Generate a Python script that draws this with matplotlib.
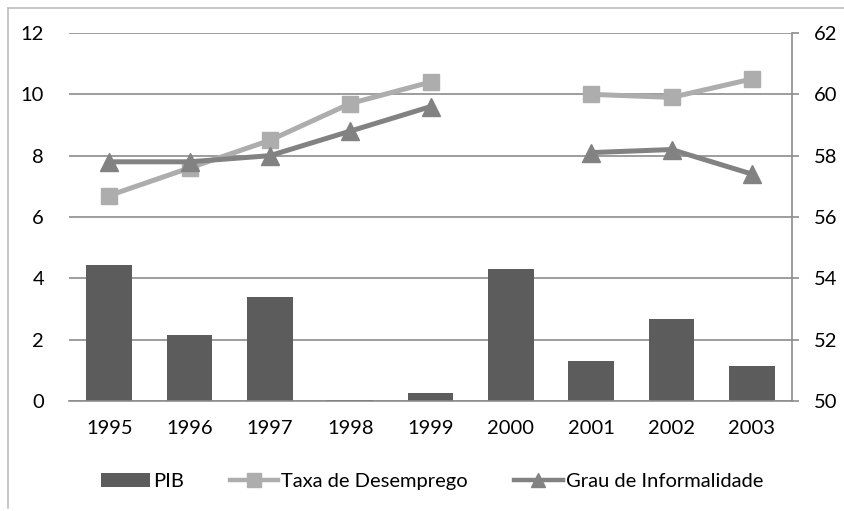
import matplotlib
matplotlib.use('Agg')
import matplotlib.pyplot as plt
import numpy as np
from matplotlib.lines import Line2D
from matplotlib.patches import Patch

# data
years = ['1995', '1996', '1997', '1998', '1999', '2000', '2001', '2002', '2003']
pib = [4.42, 2.15, 3.38, 0.04, 0.25, 4.31, 1.31, 2.66, 1.15]
desemprego = [6.7, 7.6, 8.5, 9.7, 10.4, np.nan, 10.0, 9.9, 10.5]
informalidade = [57.8, 57.8, 58.0, 58.8, 59.6, np.nan, 58.1, 58.2, 57.4]

plt.rcParams['font.family'] = ['Lato', 'DejaVu Sans']

bar_color = '#5c5c5c'
taxa_color = '#adadad'
grau_color = '#828282'
grid_color = '#8c8c8c'
fs = 14.5

fig = plt.figure(figsize=(8.44, 5.11), dpi=100)
ax = fig.add_axes([0.0818, 0.2153, 0.8566, 0.7201])
ax2 = ax.twinx()

x = np.arange(len(years))
ax.bar(x, pib, width=0.57, color=bar_color, zorder=2)
ax.plot(x, desemprego, color=taxa_color, lw=3.6, marker='s', ms=12,
        zorder=3)
ax2.plot(x, informalidade, color=grau_color, lw=3.6, marker='^', ms=13,
         zorder=3)

ax.set_xlim(-0.5, len(years) - 0.5)
ax.set_ylim(0, 12)
ax.set_yticks(range(0, 13, 2))
ax2.set_ylim(50, 62)
ax2.set_yticks(range(50, 63, 2))
ax.set_xticks(x)
ax.set_xticklabels(years)

ax.yaxis.grid(True, color=grid_color, lw=1.2, zorder=0)
ax.set_axisbelow(True)

for a in (ax, ax2):
    for s in ('top', 'left', 'right', 'bottom'):
        a.spines[s].set_visible(False)
    a.tick_params(length=0, labelsize=fs, colors='black')
ax.tick_params(axis='y', pad=18)
ax.tick_params(axis='x', pad=14)
ax2.spines['right'].set_visible(True)
ax2.spines['right'].set_color(grid_color)
ax2.spines['right'].set_linewidth(1.2)
ax2.tick_params(axis='y', length=5, width=1.2, color=grid_color,
                direction='out', pad=11, labelcolor='black')
ax.spines['bottom'].set_visible(True)
ax.spines['bottom'].set_color(grid_color)
ax.spines['bottom'].set_linewidth(1.2)

# lines of the right axis above the bars
ax2.set_zorder(ax.get_zorder() + 1)
ax2.patch.set_visible(False)

handles = [
    Patch(facecolor=bar_color, edgecolor='none', label='PIB'),
    Line2D([], [], color=taxa_color, lw=3.2, marker='s', ms=9.5, label='Taxa de Desemprego'),
    Line2D([], [], color=grau_color, lw=3.2, marker='^', ms=10, label='Grau de Informalidade'),
]
fig.legend(handles=handles, loc='center', bbox_to_anchor=(0.512, 0.057), ncol=3,
           frameon=False, fontsize=fs, handlelength=2.4, handletextpad=0.15,
           columnspacing=2.3)

# outer chart frame (only left and top edges visible)
fig.add_artist(Line2D([8 / 844, 8 / 844], [3 / 511, 1 - 8 / 511], transform=fig.transFigure,
                      color='#bdbdbd', lw=1.2))
fig.add_artist(Line2D([8 / 844, 1], [1 - 8 / 511, 1 - 8 / 511], transform=fig.transFigure,
                      color='#bdbdbd', lw=1.2))

fig.savefig('out.png', dpi=100)
